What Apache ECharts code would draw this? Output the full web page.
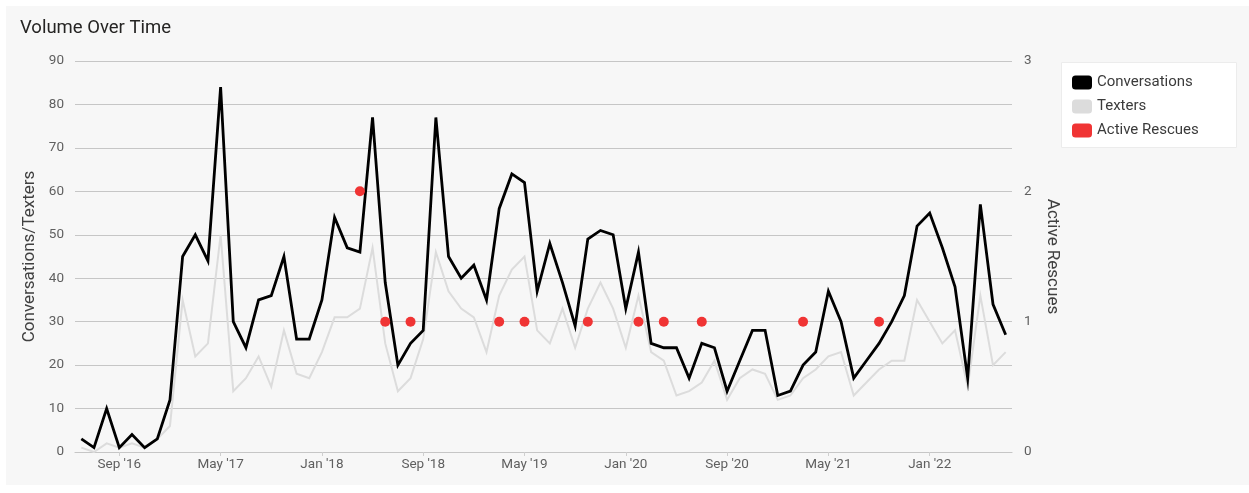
<!DOCTYPE html>
<html>
<head>
<meta charset="utf-8">
<title>Volume Over Time</title>
<script src="https://cdn.jsdelivr.net/npm/echarts@6/dist/echarts.min.js"></script>
<style>
  html, body { margin: 0; padding: 0; background: #ffffff; }
  #card { position: absolute; left: 6px; top: 6px; width: 1243px; height: 479px; background: #f7f7f7; }
</style>
</head>
<body>
<div id="card"></div>
<script>
// Monthly buckets, Jun 2016 – Jul 2022
const months = [
  "Jun '16", "Jul '16", "Aug '16", "Sep '16", "Oct '16", "Nov '16", "Dec '16",
  "Jan '17", "Feb '17", "Mar '17", "Apr '17", "May '17", "Jun '17", "Jul '17", "Aug '17", "Sep '17", "Oct '17", "Nov '17", "Dec '17",
  "Jan '18", "Feb '18", "Mar '18", "Apr '18", "May '18", "Jun '18", "Jul '18", "Aug '18", "Sep '18", "Oct '18", "Nov '18", "Dec '18",
  "Jan '19", "Feb '19", "Mar '19", "Apr '19", "May '19", "Jun '19", "Jul '19", "Aug '19", "Sep '19", "Oct '19", "Nov '19", "Dec '19",
  "Jan '20", "Feb '20", "Mar '20", "Apr '20", "May '20", "Jun '20", "Jul '20", "Aug '20", "Sep '20", "Oct '20", "Nov '20", "Dec '20",
  "Jan '21", "Feb '21", "Mar '21", "Apr '21", "May '21", "Jun '21", "Jul '21", "Aug '21", "Sep '21", "Oct '21", "Nov '21", "Dec '21",
  "Jan '22", "Feb '22", "Mar '22", "Apr '22", "May '22", "Jun '22", "Jul '22"
];

const conversations = [
  3, 1, 10, 1, 4, 1, 3, 12, 45, 50,
  44, 84, 30, 24, 35, 36, 45, 26, 26, 35,
  54, 47, 46, 77, 39, 20, 25, 28, 77, 45,
  40, 43, 35, 56, 64, 62, 37, 48, 39, 29,
  49, 51, 50, 33, 46, 25, 24, 24, 17, 25,
  24, 14, 21, 28, 28, 13, 14, 20, 23, 37,
  30, 17, 21, 25, 30, 36, 52, 55, 47, 38,
  17, 57, 34, 27
];

const texters = [
  1, 0, 2, 1, 2, 1, 3, 6, 35, 22,
  25, 50, 14, 17, 22, 15, 28, 18, 17, 23,
  31, 31, 33, 47, 25, 14, 17, 26, 46, 37,
  33, 31, 23, 36, 42, 45, 28, 25, 33, 24,
  33, 39, 33, 24, 36, 23, 21, 13, 14, 16,
  21, 12, 17, 19, 18, 12, 13, 17, 19, 22,
  23, 13, 16, 19, 21, 21, 35, 30, 25, 28,
  15, 36, 20, 23
];

// Months with an active rescue and how many
const rescueMonths = ["Apr '18", "Jun '18", "Aug '18", "Mar '19", "May '19", "Oct '19", "Feb '20", "Apr '20", "Jul '20", "Mar '21", "Sep '21"];
const rescueCounts = [2, 1, 1, 1, 1, 1, 1, 1, 1, 1, 1];

const leftTicks = { min: 0, max: 90, step: 10 };
const rightTicks = { min: 0, max: 3, step: 1 };

// every 8th month gets a label, starting at Sep '16
const labelEvery = 8;
const labelOffset = 3;
const showLabel = (i) => i % labelEvery === labelOffset;

const FONT = 'Roboto, "Noto Sans", sans-serif';

const chart = echarts.init(document.getElementById('card'), null, { renderer: 'canvas' });

chart.setOption({
  animation: false,
  backgroundColor: '#f7f7f7',
  textStyle: { fontFamily: FONT },
  title: {
    text: 'Volume Over Time',
    left: 14,
    top: 13,
    padding: 0,
    textStyle: { fontFamily: FONT, fontSize: 18.5, fontWeight: 'normal', color: '#252423' }
  },
  graphic: [{
    type: 'rect',
    left: 1055,
    top: 56,
    z: 1,
    shape: { width: 175, height: 85 },
    style: { fill: '#ffffff', stroke: '#ececec', lineWidth: 1 }
  }],
  legend: {
    orient: 'vertical',
    left: 1066,
    top: 69,
    padding: 0,
    itemWidth: 20,
    itemHeight: 14,
    itemGap: 9,
    icon: 'roundRect',
    textStyle: { fontFamily: FONT, fontSize: 15, color: '#3b3b3b', lineHeight: 14 },
    data: ['Conversations', 'Texters', 'Active Rescues']
  },
  grid: { left: 69, top: 55, width: 937, height: 391, containLabel: false },
  xAxis: {
    type: 'category',
    data: months,
    boundaryGap: true,
    axisLine: { show: true, lineStyle: { color: '#c6c6c6', width: 1.2 } },
    axisTick: { show: true, alignWithLabel: true, interval: showLabel, length: 4, lineStyle: { color: '#cfcfcf' } },
    axisLabel: { interval: showLabel, margin: 6, color: '#5f5f5f', fontSize: 13.5, fontFamily: FONT },
    splitLine: { show: false }
  },
  yAxis: [{
    type: 'value',
    min: leftTicks.min,
    max: leftTicks.max,
    interval: leftTicks.step,
    name: 'Conversations/Texters',
    nameLocation: 'middle',
    nameGap: 37,
    nameTextStyle: { fontFamily: FONT, fontSize: 17, color: '#404040' },
    axisLine: { show: false },
    axisTick: { show: false },
    axisLabel: { margin: 11, color: '#5f5f5f', fontSize: 13.5, fontFamily: FONT },
    splitLine: { show: true, lineStyle: { color: '#c6c6c6', width: 1.2 } }
  }, {
    type: 'value',
    position: 'right',
    min: rightTicks.min,
    max: rightTicks.max,
    interval: rightTicks.step,
    name: 'Active Rescues',
    nameLocation: 'middle',
    nameGap: 32,
    nameRotate: -90,
    nameTextStyle: { fontFamily: FONT, fontSize: 17, color: '#404040' },
    axisLine: { show: false },
    axisTick: { show: false },
    axisLabel: { margin: 12, color: '#5f5f5f', fontSize: 13.5, fontFamily: FONT },
    splitLine: { show: false }
  }],
  series: [{
    name: 'Texters',
    type: 'line',
    data: texters,
    yAxisIndex: 0,
    showSymbol: false,
    color: '#dcdcdc',
    lineStyle: { color: '#dcdcdc', width: 2, join: 'miter' },
    z: 2
  }, {
    name: 'Conversations',
    type: 'line',
    data: conversations,
    yAxisIndex: 0,
    showSymbol: false,
    color: '#000000',
    lineStyle: { color: '#000000', width: 2.8, join: 'miter' },
    z: 3
  }, {
    name: 'Active Rescues',
    type: 'scatter',
    data: rescueMonths.map((m, i) => [m, rescueCounts[i]]),
    yAxisIndex: 1,
    symbolSize: 10,
    color: '#f03434',
    itemStyle: { color: '#f03434', opacity: 1 },
    z: 4
  }]
});
</script>
</body>
</html>
